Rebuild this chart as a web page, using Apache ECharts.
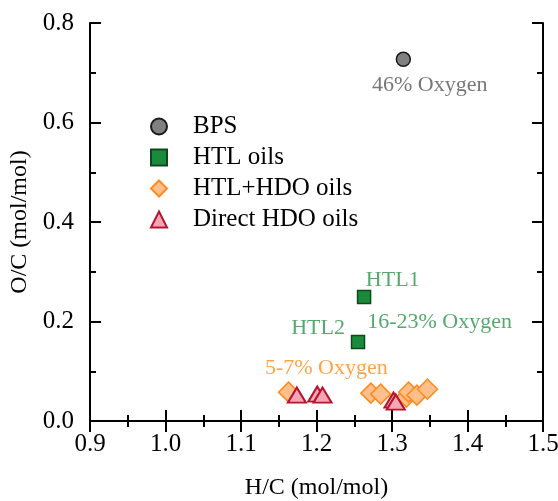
<!DOCTYPE html>
<html><head><meta charset="utf-8">
<script src="https://cdn.jsdelivr.net/npm/echarts@6/dist/echarts.min.js"></script>
<style>html,body{margin:0;padding:0;background:#fff}#c{width:558px;height:501px}</style>
</head><body><div id="c"></div>
<script>
const bps = [[1.315, 0.727]];
const htl = [[1.263, 0.249], [1.255, 0.159]];
const htlHdo = [[1.163, 0.058], [1.272, 0.056], [1.285, 0.054], [1.319, 0.048], [1.322, 0.058], [1.333, 0.052], [1.347, 0.064]];
const directHdo = [[1.174, 0.052], [1.201, 0.054], [1.208, 0.052], [1.302, 0.042], [1.305, 0.038]];
const annotations = [
  {text: '46% Oxygen', x: 1.350, y: 0.675, color: '#555555'},
  {text: 'HTL1', x: 1.301, y: 0.283, color: '#2a9448'},
  {text: 'HTL2', x: 1.202, y: 0.187, color: '#2a9448'},
  {text: '16-23% Oxygen', x: 1.363, y: 0.199, color: '#2a9448'},
  {text: '5-7% Oxygen', x: 1.213, y: 0.107, color: '#ff8c1a'}
];
const FONT = 'Liberation Serif';
const chart = echarts.init(document.getElementById('c'));
const axisCommon = {
  axisLine: {lineStyle: {color: '#000', width: 2}},
  axisTick: {inside: true, length: 11, lineStyle: {color: '#000', width: 2}},
  minorTick: {show: true, splitNumber: 2, length: 6, lineStyle: {color: '#000', width: 2}},
  splitLine: {show: false}
};
chart.setOption({
  animation: false,
  grid: {left: 90, right: 15, top: 23, bottom: 80, outerBoundsMode: 'none', containLabel: false},
  xAxis: [
    Object.assign({type: 'value', min: 0.9, max: 1.5, interval: 0.1, position: 'bottom',
      name: 'H/C (mol/mol)', nameLocation: 'middle', nameGap: 55,
      nameTextStyle: {fontFamily: FONT, fontSize: 24, color: '#000'},
      axisLabel: {fontFamily: FONT, fontSize: 25, color: '#000', margin: 11, formatter: v => v.toFixed(1)}}, axisCommon),
    Object.assign({type: 'value', min: 0.9, max: 1.5, interval: 0.1, position: 'top', axisLabel: {show: false}}, axisCommon)
  ],
  yAxis: [
    Object.assign({type: 'value', min: 0, max: 0.8, interval: 0.2, position: 'left',
      name: 'O/C (mol/mol)', nameLocation: 'middle', nameGap: 55, nameRotate: 90,
      nameTextStyle: {fontFamily: FONT, fontSize: 24, color: '#000'},
      axisLabel: {fontFamily: FONT, fontSize: 25, color: '#000', margin: 16, formatter: v => v.toFixed(1)}}, axisCommon),
    Object.assign({type: 'value', min: 0, max: 0.8, interval: 0.2, position: 'right', axisLabel: {show: false}}, axisCommon)
  ],
  legend: {
    orient: 'vertical', left: 145, top: 109, itemWidth: 16, itemHeight: 16, itemGap: 6,
    textStyle: {fontFamily: FONT, fontSize: 25, color: '#000', lineHeight: 25, padding: [0, 0, 0, 21]},
    data: ['BPS', 'HTL oils', 'HTL+HDO oils', 'Direct HDO oils']
  },
  series: [
    {name: 'BPS', type: 'scatter', data: bps, symbol: 'circle', symbolSize: 14,
      itemStyle: {color: '#808080', borderColor: '#1a1a1a', borderWidth: 1.5, opacity: 1}},
    {name: 'HTL oils', type: 'scatter', data: htl, symbol: 'rect', symbolSize: 13,
      itemStyle: {color: '#1b8a3c', borderColor: '#0b4a1c', borderWidth: 1.5, opacity: 1}},
    {name: 'HTL+HDO oils', type: 'scatter', data: htlHdo, symbol: 'diamond', symbolSize: [20, 20],
      itemStyle: {color: '#ffbf8a', borderColor: '#ff8a1f', borderWidth: 1.5, opacity: 1}},
    {name: 'Direct HDO oils', type: 'scatter', data: directHdo, symbol: 'triangle', symbolSize: [18, 15],
      itemStyle: {color: '#f5a5b5', borderColor: '#b5152f', borderWidth: 2, opacity: 1}},
    {name: 'annot', type: 'scatter', symbolSize: 0, silent: true,
      data: annotations.map(a => ({value: [a.x, a.y], label: {show: true, position: 'inside', formatter: a.text,
        color: a.color, fontFamily: FONT, fontSize: 22}}))}
  ]
});
</script></body></html>
